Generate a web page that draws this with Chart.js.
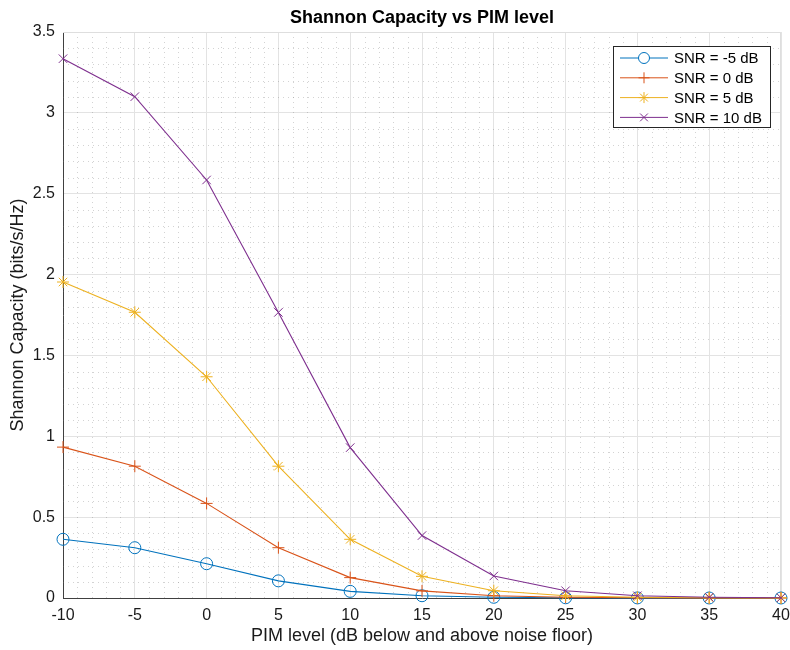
<!DOCTYPE html>
<html>
<head>
<meta charset="utf-8">
<title>Shannon Capacity vs PIM level</title>
<script src="https://cdn.jsdelivr.net/npm/chart.js@4/dist/chart.umd.min.js"></script>
<style>
    html, body { margin: 0; padding: 0; background: #ffffff; }
    #wrap { width: 790px; height: 650px; }
</style>
</head>
<body>
<div id="wrap"><canvas id="capacityChart" width="790" height="650"></canvas></div>
<script>
// ========== DATA ==========

const pimLevels = [-10, -5, 0, 5, 10, 15, 20, 25, 30, 35, 40];
const snrLabels = ['SNR = -5 dB', 'SNR = 0 dB', 'SNR = 5 dB', 'SNR = 10 dB'];

const capSnrM5 = [0.363, 0.311, 0.212, 0.106, 0.041, 0.014, 0.0045, 0.0014, 0.0005, 0.0001, 0.00005];
const capSnr0 = [0.933, 0.815, 0.585, 0.311, 0.126, 0.044, 0.014, 0.0045, 0.0014, 0.0005, 0.0001];
const capSnr5 = [1.954, 1.767, 1.368, 0.815, 0.363, 0.134, 0.045, 0.014, 0.0045, 0.0014, 0.0005];
const capSnr10 = [3.335, 3.10, 2.585, 1.766, 0.93, 0.386, 0.136, 0.045, 0.014, 0.0046, 0.0014];

const xTicks = [-10, -5, 0, 5, 10, 15, 20, 25, 30, 35, 40];
const yTicks = [0, 0.5, 1, 1.5, 2, 2.5, 3, 3.5];

// matlab default colour order
const colors = ['#0072BD', '#D95319', '#EDB120', '#7E2F8E'];
const markers = ['circle', 'cross', 'star', 'crossRot'];
const FONT = "'Liberation Sans', Arial, Helvetica, sans-serif";

function toPoints(values) {
    return pimLevels.map((x, i) => ({ x: x, y: values[i] }));
}

// ========== PLUGINS ==========

// dotted minor grid + light box on top/right
const minorGrid = {
    id: 'minorGrid',
    beforeDatasetsDraw(chart) {
        const { ctx, chartArea: a, scales } = chart;
        ctx.save();
        ctx.strokeStyle = 'rgba(110,110,110,0.3)';
        ctx.lineWidth = 1;
        ctx.setLineDash([1, 4]);
        for (let v = -10; v <= 40; v += 1) {
            if (v % 5 === 0) continue;
            const px = Math.round(scales.x.getPixelForValue(v)) + 0.5;
            ctx.beginPath();
            ctx.moveTo(px, a.top);
            ctx.lineTo(px, a.bottom);
            ctx.stroke();
        }
        for (let k = 1; k < 35; k++) {
            if (k % 5 === 0) continue;
            const py = Math.round(scales.y.getPixelForValue(k / 10)) + 0.5;
            ctx.beginPath();
            ctx.moveTo(a.left, py);
            ctx.lineTo(a.right, py);
            ctx.stroke();
        }
        ctx.setLineDash([]);
        ctx.strokeStyle = '#dedede';
        ctx.beginPath();
        ctx.moveTo(a.left, a.top + 0.5);
        ctx.lineTo(a.right - 0.5, a.top + 0.5);
        ctx.lineTo(a.right - 0.5, a.bottom);
        ctx.stroke();
        ctx.restore();
    }
};

// title centred over the plot area
const plotTitle = {
    id: 'plotTitle',
    afterDraw(chart) {
        const { ctx, chartArea: a } = chart;
        ctx.save();
        ctx.fillStyle = '#000000';
        ctx.font = 'bold 18px ' + FONT;
        ctx.textAlign = 'center';
        ctx.textBaseline = 'middle';
        ctx.fillText('Shannon Capacity vs PIM level', (a.left + a.right) / 2, 18);
        ctx.restore();
    }
};

// legend box inside the axes, upper right
const boxLegend = {
    id: 'boxLegend',
    afterDraw(chart) {
        const { ctx, chartArea: a } = chart;
        const w = 157, h = 81;
        const x0 = a.right - 168, y0 = a.top + 14;
        ctx.save();
        ctx.fillStyle = '#ffffff';
        ctx.fillRect(x0, y0, w, h);
        ctx.strokeStyle = '#262626';
        ctx.lineWidth = 1;
        ctx.strokeRect(x0 + 0.5, y0 + 0.5, w, h);
        ctx.font = '15px ' + FONT;
        ctx.textBaseline = 'middle';
        chart.data.datasets.forEach((ds, i) => {
            const y = y0 + 12 + i * 19.8;
            ctx.strokeStyle = ds.borderColor;
            ctx.lineWidth = 1;
            ctx.beginPath();
            ctx.moveTo(x0 + 7, y);
            ctx.lineTo(x0 + 55, y);
            ctx.stroke();
            Chart.helpers.drawPoint(ctx, {
                pointStyle: ds.pointStyle,
                radius: 5.5,
                borderWidth: 1
            }, x0 + 31, y);
            ctx.fillStyle = '#000000';
            ctx.fillText(ds.label, x0 + 61, y + 1);
        });
        ctx.restore();
    }
};

// ========== CHART ==========

function initCapacityChart() {
    const ctx = document.getElementById('capacityChart').getContext('2d');
    const series = [capSnrM5, capSnr0, capSnr5, capSnr10];

    new Chart(ctx, {
        type: 'line',
        data: {
            datasets: series.map((vals, i) => ({
                label: snrLabels[i],
                data: toPoints(vals),
                borderColor: colors[i],
                backgroundColor: 'rgba(0,0,0,0)',
                pointBorderColor: colors[i],
                pointBackgroundColor: 'rgba(0,0,0,0)',
                pointStyle: markers[i],
                pointRadius: 6,
                pointBorderWidth: 1,
                borderWidth: 1.1,
                tension: 0,
                fill: false,
                clip: false,
                order: 4 - i
            }))
        },
        options: {
            responsive: false,
            animation: false,
            layout: { padding: { top: 32, right: 0, left: 0, bottom: 0 } },
            plugins: {
                legend: { display: false },
                title: { display: false },
                tooltip: { enabled: false }
            },
            scales: {
                x: {
                    type: 'linear',
                    min: -10,
                    max: 40,
                    afterBuildTicks: (scale) => { scale.ticks = xTicks.map(v => ({ value: v })); },
                    afterFit: (scale) => {
                        scale.height = 52;
                        scale.paddingLeft = 0;
                        scale.paddingRight = 9;
                    },
                    grid: { color: '#e3e3e3', drawTicks: false },
                    border: { color: '#404040', width: 1 },
                    ticks: {
                        color: '#1a1a1a',
                        padding: 8,
                        maxRotation: 0,
                        font: { family: FONT, size: 16 }
                    },
                    title: {
                        display: true,
                        text: 'PIM level (dB below and above noise floor)',
                        color: '#1a1a1a',
                        font: { family: FONT, size: 18 },
                        padding: { top: 0, bottom: 3 }
                    }
                },
                y: {
                    type: 'linear',
                    min: 0,
                    max: 3.5,
                    afterBuildTicks: (scale) => { scale.ticks = yTicks.map(v => ({ value: v })); },
                    afterFit: (scale) => {
                        scale.width = 63;
                        scale.paddingTop = 0;
                        scale.paddingBottom = 0;
                    },
                    grid: { color: '#e3e3e3', drawTicks: false },
                    border: { color: '#404040', width: 1 },
                    ticks: {
                        color: '#1a1a1a',
                        padding: 8,
                        callback: (v) => String(v),
                        font: { family: FONT, size: 16 }
                    },
                    title: {
                        display: true,
                        text: 'Shannon Capacity (bits/s/Hz)',
                        color: '#1a1a1a',
                        font: { family: FONT, size: 18 },
                        padding: { top: 7, bottom: 0 }
                    }
                }
            }
        },
        plugins: [minorGrid, plotTitle, boxLegend]
    });
}

document.addEventListener('DOMContentLoaded', () => {
    initCapacityChart();
});
</script>
</body>
</html>
